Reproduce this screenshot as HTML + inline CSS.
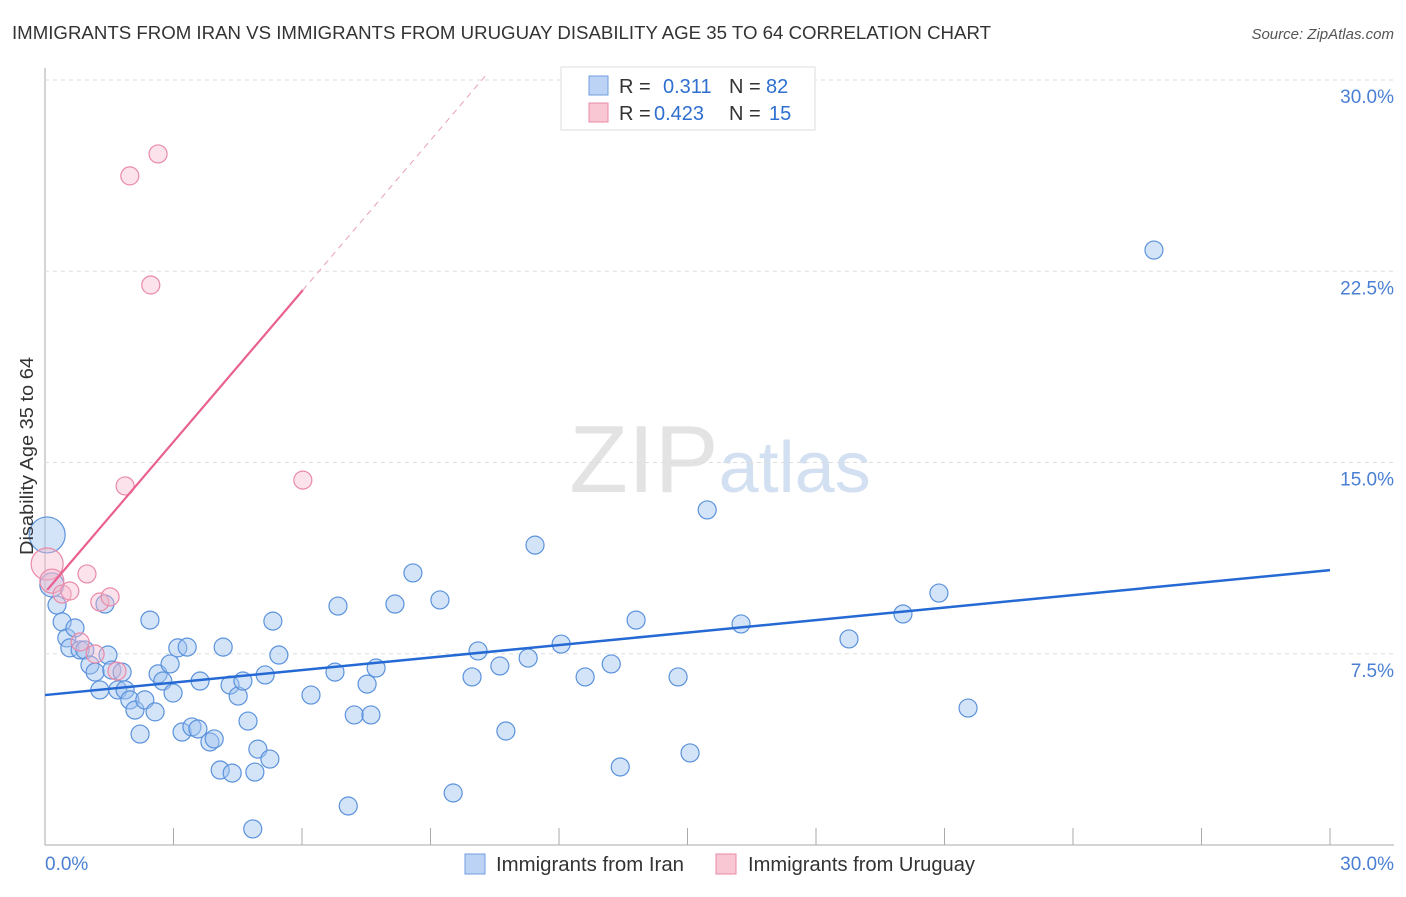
<!DOCTYPE html>
<html><head><meta charset="utf-8"><style>
body{margin:0;background:#fff;font-family:"Liberation Sans",sans-serif;}
svg text{font-family:"Liberation Sans",sans-serif;}
</style></head><body>
<svg id="chart" width="1406" height="892" xmlns="http://www.w3.org/2000/svg">
<text x="12" y="39" font-size="18" fill="#333" textLength="979" lengthAdjust="spacingAndGlyphs">IMMIGRANTS FROM IRAN VS IMMIGRANTS FROM URUGUAY DISABILITY AGE 35 TO 64 CORRELATION CHART</text>
<text x="1394" y="39" font-size="15" fill="#555" text-anchor="end" font-style="italic">Source: ZipAtlas.com</text>
<text x="720" y="492" font-size="96" text-anchor="middle" font-family="Liberation Serif" fill="#ddd" opacity="0.8">ZIP<tspan fill="#c9d9ef" font-family="Liberation Sans" font-size="72">atlas</tspan></text>
<g id="grid"></g>
<g id="pts"></g>
<text transform="translate(33,456) rotate(-90)" font-size="18" fill="#333" text-anchor="middle" textLength="198" lengthAdjust="spacingAndGlyphs">Disability Age 35 to 64</text>
<text x="45" y="870" font-size="19" fill="#4a7fd4">0.0%</text>
<text x="1394" y="870" font-size="19" fill="#4a7fd4" text-anchor="end">30.0%</text>
<g>
<rect x="561" y="67" width="254" height="63" fill="#fff" stroke="#ddd"/>
<rect x="589" y="76" width="19" height="19" fill="#bcd3f5" stroke="#6f9ee0"/>
<rect x="589" y="103" width="19" height="19" fill="#f9c6d4" stroke="#e88aa6"/>
<text x="619" y="93" font-size="20" fill="#333">R = <tspan fill="#2f6fd0" x="663">0.311</tspan><tspan x="729" fill="#333">N = </tspan><tspan fill="#2f6fd0" x="766">82</tspan></text>
<text x="619" y="120" font-size="20" fill="#333">R = <tspan fill="#2f6fd0" x="654">0.423</tspan><tspan x="729" fill="#333">N = </tspan><tspan fill="#2f6fd0" x="769">15</tspan></text>
</g>
<g>
<rect x="465" y="854" width="20" height="20" fill="#bcd3f5" stroke="#6f9ee0"/>
<text x="496" y="871" font-size="20" fill="#333" textLength="188" lengthAdjust="spacingAndGlyphs">Immigrants from Iran</text>
<rect x="716" y="854" width="20" height="20" fill="#f9c6d4" stroke="#e88aa6"/>
<text x="748" y="871" font-size="20" fill="#333" textLength="227" lengthAdjust="spacingAndGlyphs">Immigrants from Uruguay</text>
</g>
</svg>
<script>
const yTicks=[7.5,15,22.5,30];
const xTicks=[0,3,6,9,12,15,18,21,24,27,30];
const iranX=[0.28,0.4,0.51,0.58,0.7,0.82,0.93,1.05,1.17,1.28,1.4,1.47,1.56,1.7,1.8,1.87,1.98,2.1,2.22,2.33,2.45,2.57,2.64,2.75,2.92,2.99,3.1,3.2,3.32,3.43,3.57,3.62,3.85,3.95,4.09,4.16,4.32,4.37,4.51,4.62,4.74,4.85,4.9,4.97,5.14,5.25,5.32,5.46,6.21,6.77,6.84,7.08,7.22,7.52,7.61,7.73,8.17,8.59,9.22,9.53,9.97,10.11,10.62,10.76,11.28,11.44,12.05,12.61,13.22,13.43,13.8,14.78,15.06,15.46,16.25,18.77,20.03,20.87,21.55,25.89,0.16,0.05];
const iranY=[9.41,8.75,8.12,7.73,8.51,7.65,7.65,7.06,6.78,6.08,9.45,7.45,6.86,6.08,6.78,6.08,5.69,5.29,4.35,5.69,8.82,5.22,6.71,6.43,7.1,5.96,7.73,4.43,7.76,4.63,4.55,6.43,4.04,4.16,2.94,7.76,6.27,2.82,5.84,6.43,4.86,0.63,2.86,3.76,6.67,3.37,8.78,7.45,5.88,6.78,9.37,1.53,5.1,6.31,5.1,6.94,9.45,10.67,9.61,2.04,6.59,7.61,7.02,4.47,7.33,11.76,7.88,6.59,7.1,3.06,8.82,6.59,3.61,13.14,8.67,8.08,9.06,9.88,5.37,23.33,10.2,12.16];
const iranR=[9,9,9,9,9,9,9,9,9,9,9,9,9,9,9,9,9,9,9,9,9,9,9,9,9,9,9,9,9,9,9,9,9,9,9,9,9,9,9,9,9,9,9,9,9,9,9,9,9,9,9,9,9,9,9,9,9,9,9,9,9,9,9,9,9,9,9,9,9,9,9,9,9,9,9,9,9,9,9,9,12,18];
const uruX=[0.05,0.16,0.4,0.58,0.82,0.98,1.17,1.28,1.52,1.68,1.87,1.98,2.47,2.64,6.02];
const uruY=[11.02,10.35,9.84,9.96,7.96,10.63,7.49,9.53,9.73,6.82,14.08,26.24,21.96,27.1,14.31];
const uruR=[16,12,9,9,9,9,9,9,9,9,9,9,9,9,9];
const X0=45,X1=1330,Y0=845,Y30=80;
const sx=v=>X0+(X1-X0)*v/30, sy=v=>Y0-(Y0-Y30)*v/30;
const NS="http://www.w3.org/2000/svg";
const g=document.getElementById('grid'),p=document.getElementById('pts');
function mk(par,t,a){const e=document.createElementNS(NS,t);for(const k in a)e.setAttribute(k,a[k]);par.appendChild(e);return e;}
let ax=mk(g,'line',{x1:X0,x2:X0,y1:68,y2:Y0,stroke:'#aaa'});


let bx=mk(g,'line',{x1:X0,x2:1394,y1:Y0,y2:Y0,stroke:'#aaa'});


yTicks.forEach(v=>{
 const l=mk(g,'line',{x1:X0,x2:1394,y1:sy(v),y2:sy(v),stroke:'#ddd','stroke-dasharray':'4,4'});
 
 
 const t=mk(g,'text',{x:1394,y:sy(v)+23,'font-size':19,fill:'#4a7fd4','text-anchor':'end'});
 t.textContent=v.toFixed(1)+'%';
 
 
});
xTicks.forEach(v=>{
 const l=mk(g,'line',{x1:sx(v),x2:sx(v),y1:Y0,y2:Y0-17,stroke:'#aaa'});
 
 
});
iranX.forEach((x,i)=>{
 const c=mk(p,'circle',{cx:sx(x),cy:sy(iranY[i]),r:iranR[i],fill:'rgba(160,195,240,0.45)',stroke:'#5b92dc','stroke-width':1.2});
 
 
});
uruX.forEach((x,i)=>{
 const c=mk(p,'circle',{cx:sx(x),cy:sy(uruY[i]),r:uruR[i],fill:'rgba(248,185,205,0.4)',stroke:'#e98aa8','stroke-width':1.2});
 
 
});
let bl=mk(p,'line',{x1:sx(0),y1:sy(5.88),x2:sx(30),y2:sy(10.78),stroke:'#2469d4','stroke-width':2.5});


let pl=mk(p,'line',{x1:sx(0.05),y1:sy(10.0),x2:sx(6.02),y2:sy(21.76),stroke:'#e8618f','stroke-width':2.2});


let pd=mk(p,'line',{x1:sx(6.02),y1:sy(21.76),x2:sx(10.3),y2:sy(30.2),stroke:'#e8a0b8','stroke-width':1,'stroke-dasharray':'6,5'});


</script>
</body></html>
